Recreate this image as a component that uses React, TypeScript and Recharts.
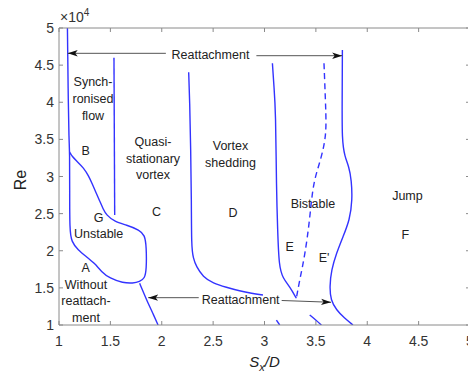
import React from 'react';
import { ComposedChart, Line, Scatter, XAxis, YAxis } from 'recharts';

type Pt = { x: number; y: number };
const toPoints = (rows: number[][]): Pt[] => rows.map(([x, y]) => ({ x, y }));

// Axis ticks (x: Sx/D, y: Re)
const xTicks = [1, 1.5, 2, 2.5, 3, 3.5, 4, 4.5, 5];
const reTicks = [10000, 15000, 20000, 25000, 30000, 35000, 40000, 45000, 50000];

// Regime boundaries, [Sx/D, Re]
const leftBoundary = toPoints([
  [1.082, 50000], [1.085, 46630], [1.09, 40300], [1.097, 34920], [1.104, 33300],
  [1.104, 28180], [1.104, 22790], [1.121, 21220], [1.185, 20100], [1.267, 19200],
  [1.347, 18310], [1.413, 17180], [1.493, 16290], [1.623, 15660], [1.72, 15620],
  [1.785, 15830], [1.834, 16290], [1.851, 17410], [1.851, 20550], [1.834, 22120],
  [1.785, 22790], [1.656, 23470], [1.542, 23910], [1.461, 24810], [1.43, 25620],
  [1.396, 26700], [1.362, 27780], [1.328, 28860], [1.289, 30070], [1.24, 31150],
  [1.172, 32090], [1.128, 32690], [1.104, 33300],
]);
const quasiBoundary = toPoints([[1.535, 46000], [1.542, 24810]]);
const lowerReattach = toPoints([
  [1.785, 15620], [1.824, 14310], [1.866, 12960], [1.912, 11620], [1.964, 10000],
]);
const sheddingBoundary = toPoints([
  [2.262, 44030], [2.272, 40300], [2.282, 33570], [2.289, 26840], [2.289, 20550],
  [2.306, 19020], [2.337, 17850], [2.401, 16500], [2.499, 15620], [2.629, 15080],
  [2.759, 14580], [2.875, 14270], [2.985, 14040],
]);
const bistableLeft = toPoints([
  [3.077, 45250], [3.092, 42090], [3.109, 38960], [3.116, 28180], [3.128, 22790],
  [3.141, 17850], [3.18, 16290], [3.245, 15160], [3.31, 13600],
]);
const bistableSplit = toPoints([
  [3.579, 45250], [3.593, 40300], [3.602, 36710], [3.586, 34470], [3.537, 31780],
  [3.472, 29080], [3.44, 24140], [3.391, 19200], [3.342, 16060], [3.31, 13600],
]);
const jumpBoundary = toPoints([
  [3.758, 47040], [3.756, 40300], [3.754, 34920], [3.781, 32670], [3.822, 31320],
  [3.846, 29530], [3.855, 26840], [3.829, 24140], [3.764, 21890], [3.7, 19660],
  [3.651, 17410], [3.634, 15160], [3.644, 13370], [3.7, 12020], [3.78, 10900],
  [3.861, 10000],
]);
const lowStubA = toPoints([[3.116, 10670], [3.148, 10000]]);
const lowStubB = toPoints([[3.44, 11350], [3.499, 10670], [3.554, 10000]]);

// Reattachment arrows: [tail, tip]
const arrowTopLeft = toPoints([[2.04, 46590], [1.085, 46590]]);
const arrowTopRight = toPoints([[2.921, 46270], [3.756, 46270]]);
const arrowLowLeft = toPoints([[2.36, 13680], [1.868, 13680]]);
const arrowLowRight = toPoints([[3.167, 13300], [3.648, 13060]]);

// Region captions
const regionLabels = [
  { x: 1.331, y: 40440, lines: ['Synch-', 'ronised', 'flow'] },
  { x: 1.26, y: 33430, lines: ['B'] },
  { x: 1.915, y: 32400, lines: ['Quasi-', 'stationary', 'vortex'] },
  { x: 2.669, y: 32960, lines: ['Vortex', 'shedding'] },
  { x: 1.948, y: 25260, lines: ['C'] },
  { x: 2.693, y: 25040, lines: ['D'] },
  { x: 1.386, y: 24370, lines: ['G'] },
  { x: 1.386, y: 22260, lines: ['Unstable'] },
  { x: 1.26, y: 17640, lines: ['A'] },
  { x: 1.263, y: 13190, lines: ['Without', 'reattach-', 'ment'] },
  { x: 3.472, y: 26260, lines: ['Bistable'] },
  { x: 3.245, y: 20550, lines: ['E'] },
  { x: 3.579, y: 18980, lines: ["E'"] },
  { x: 4.391, y: 27410, lines: ['Jump'] },
  { x: 4.371, y: 22120, lines: ['F'] },
  { x: 2.474, y: 46420, lines: ['Reattachment'] },
  { x: 2.768, y: 13370, lines: ['Reattachment'] },
];

const FONT = '"Liberation Sans", Arial, Helvetica, sans-serif';
const BLUE = '#3333ff';
const AXIS = '#8a8a8a';
const TICK_TEXT = '#333333';
const TICK_LEN = 4;

const fmtRe = (v: number) => String(v / 10000);

const BottomTick = (props: any) => {
  const { x, y, payload } = props;
  return (
    <g>
      <line x1={x} y1={y} x2={x} y2={y - TICK_LEN} stroke={AXIS} strokeWidth={1} />
      <text x={x} y={y + 16} textAnchor="middle" dominantBaseline="central" fontSize={14} fontFamily={FONT} fill={TICK_TEXT}>
        {String(payload.value)}
      </text>
    </g>
  );
};

const TopTick = (props: any) => {
  const { x, y } = props;
  return <line x1={x} y1={y} x2={x} y2={y + TICK_LEN} stroke={AXIS} strokeWidth={1} />;
};

const LeftTick = (props: any) => {
  const { x, y, payload } = props;
  return (
    <g>
      <line x1={x} y1={y} x2={x + TICK_LEN} y2={y} stroke={AXIS} strokeWidth={1} />
      <text x={x - 5} y={y} textAnchor="end" dominantBaseline="central" fontSize={14} fontFamily={FONT} fill={TICK_TEXT}>
        {fmtRe(payload.value)}
      </text>
    </g>
  );
};

const RightTick = (props: any) => {
  const { x, y } = props;
  return <line x1={x} y1={y} x2={x - TICK_LEN} y2={y} stroke={AXIS} strokeWidth={1} />;
};

const YTitle = (props: any) => {
  const vb = props.viewBox || { x: 0, y: 28, width: 59, height: 297 };
  return (
    <g fontFamily={FONT} fill="#222">
      <text transform={`translate(${vb.x + 26},${vb.y + vb.height / 2 + 3.5}) rotate(-90)`} textAnchor="middle" fontSize={16}>
        Re
      </text>
      <text x={vb.x + vb.width + 1} y={vb.y - 6} fontSize={14} fill={TICK_TEXT}>
        ×10<tspan dy={-6.5} fontSize={10}>4</tspan>
      </text>
    </g>
  );
};

const XTitle = (props: any) => {
  const vb = props.viewBox || { x: 59, y: 325, width: 411, height: 50 };
  return (
    <text x={vb.x + vb.width / 2} y={vb.y + 41.5} textAnchor="middle" fontFamily={FONT} fontSize={15} fontStyle="italic" fill="#222">
      S<tspan dy={4} fontSize={11}>x</tspan><tspan dy={-4}>/D</tspan>
    </text>
  );
};

const Caption = (props: any) => {
  const { cx, cy, payload } = props;
  const lines: string[] = payload.lines;
  const step = 16.6;
  const first = cy - ((lines.length - 1) * step) / 2;
  return (
    <text textAnchor="middle" fontFamily={FONT} fontSize={12.5} fill="#222">
      {lines.map((t, i) => (
        <tspan key={i} x={cx} y={first + i * step} dominantBaseline="central">
          {t}
        </tspan>
      ))}
    </text>
  );
};

const boundaryLine = (key: string, data: Pt[], dashed = false) => (
  <Line
    key={key}
    data={data}
    dataKey="y"
    type="basis"
    stroke={BLUE}
    strokeWidth={1.4}
    strokeDasharray={dashed ? '6 4' : undefined}
    dot={false}
    activeDot={false}
    isAnimationActive={false}
  />
);

const arrowLine = (key: string, data: Pt[]) => (
  <Line
    key={key}
    data={data}
    dataKey="y"
    type="linear"
    stroke="#555"
    strokeWidth={1}
    markerEnd="url(#reattachArrow)"
    dot={false}
    activeDot={false}
    isAnimationActive={false}
  />
);

export default function App() {
  return (
    <div style={{ position: 'absolute', left: 0, top: 0, width: 468, height: 375, overflow: 'hidden', background: '#fff' }}>
      <svg width={0} height={0} style={{ position: 'absolute' }}>
        <defs>
          <marker id="reattachArrow" markerUnits="userSpaceOnUse" markerWidth={11} markerHeight={7} refX={10} refY={3.5} orient="auto">
            <path d="M0,0.3 L10,3.5 L0,6.7 L2.5,3.5 Z" fill="#111" />
          </marker>
        </defs>
      </svg>
      <ComposedChart width={472} height={375} margin={{ top: 0, right: 0, bottom: 0, left: 0 }}>
        <XAxis
          type="number"
          dataKey="x"
          domain={[1, 5]}
          ticks={xTicks}
          interval={0}
          allowDataOverflow
          height={50}
          tickSize={0}
          tickMargin={0}
          tickLine={false}
          axisLine={{ stroke: AXIS }}
          tick={(p: any) => <BottomTick {...p} />}
          label={(p: any) => <XTitle {...p} />}
        />
        <XAxis
          xAxisId="top"
          orientation="top"
          type="number"
          dataKey="x"
          domain={[1, 5]}
          ticks={xTicks}
          interval={0}
          allowDataOverflow
          height={28}
          tickSize={0}
          tickMargin={0}
          tickLine={false}
          axisLine={{ stroke: AXIS }}
          tick={(p: any) => <TopTick {...p} />}
        />
        <YAxis
          type="number"
          dataKey="y"
          domain={[10000, 50000]}
          ticks={reTicks}
          interval={0}
          allowDataOverflow
          width={59}
          tickSize={0}
          tickMargin={0}
          tickLine={false}
          axisLine={{ stroke: AXIS }}
          tick={(p: any) => <LeftTick {...p} />}
          label={(p: any) => <YTitle {...p} />}
        />
        <YAxis
          yAxisId="right"
          orientation="right"
          type="number"
          dataKey="y"
          domain={[10000, 50000]}
          ticks={reTicks}
          interval={0}
          allowDataOverflow
          width={2}
          tickSize={0}
          tickMargin={0}
          tickLine={false}
          axisLine={{ stroke: AXIS }}
          tick={(p: any) => <RightTick {...p} />}
        />
        {boundaryLine('left', leftBoundary)}
        {boundaryLine('quasi', quasiBoundary)}
        {boundaryLine('lowReattach', lowerReattach)}
        {boundaryLine('shedding', sheddingBoundary)}
        {boundaryLine('bistableLeft', bistableLeft)}
        {boundaryLine('bistableSplit', bistableSplit, true)}
        {boundaryLine('jump', jumpBoundary)}
        {boundaryLine('stubA', lowStubA)}
        {boundaryLine('stubB', lowStubB)}
        {arrowLine('aTL', arrowTopLeft)}
        {arrowLine('aTR', arrowTopRight)}
        {arrowLine('aLL', arrowLowLeft)}
        {arrowLine('aLR', arrowLowRight)}
        <Scatter data={regionLabels} dataKey="y" shape={(p: any) => <Caption {...p} />} isAnimationActive={false} />
      </ComposedChart>
    </div>
  );
}
